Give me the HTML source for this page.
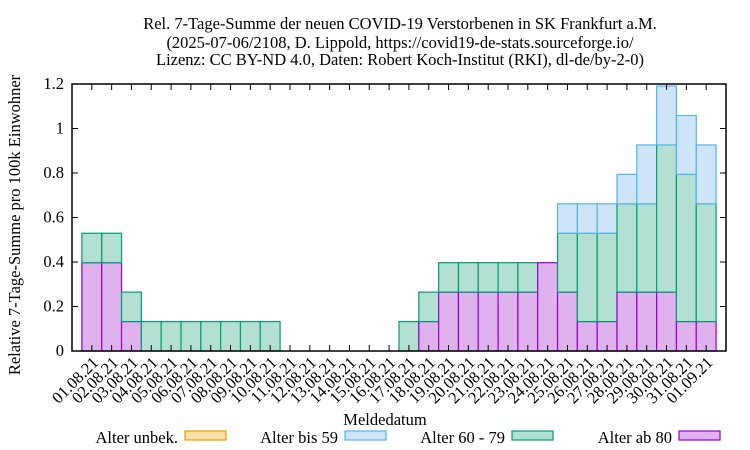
<!DOCTYPE html>
<html><head><meta charset="utf-8"><style>
body{margin:0;background:#fff}
svg{display:block;font-family:"Liberation Serif",serif;font-size:16.5px}
</style></head><body>
<svg id="c" width="750" height="450" viewBox="0 0 750 450">
<text x="400" y="29" text-anchor="middle">Rel. 7-Tage-Summe der neuen COVID-19 Verstorbenen in SK Frankfurt a.M.</text>
<text x="400" y="48" text-anchor="middle">(2025-07-06/2108, D. Lippold, https://covid19-de-stats.sourceforge.io/</text>
<text x="400" y="65" text-anchor="middle">Lizenz: CC BY-ND 4.0, Daten: Robert Koch-Institut (RKI), dl-de/by-2-0)</text>
<text transform="translate(20,225) rotate(-90)" text-anchor="middle">Relative 7-Tage-Summe pro 100k Einwohner</text>
<text x="385" y="425" text-anchor="middle">Meldedatum</text>
<g id="bars"></g><g id="axes"></g><g id="legend"></g>
</svg>
<script>
const categories=["01.08.21","02.08.21","03.08.21","04.08.21","05.08.21","06.08.21","07.08.21","08.08.21","09.08.21","10.08.21","11.08.21","12.08.21","13.08.21","14.08.21","15.08.21","16.08.21","17.08.21","18.08.21","19.08.21","20.08.21","21.08.21","22.08.21","23.08.21","24.08.21","25.08.21","26.08.21","27.08.21","28.08.21","29.08.21","30.08.21","31.08.21","01.09.21"];
const u=0.1323;
const ab80=[3,3,1,0,0,0,0,0,0,0,0,0,0,0,0,0,0,1,2,2,2,2,2,3,2,1,1,2,2,2,1,1].map(v=>v*u);
const a6079=[1,1,1,1,1,1,1,1,1,1,0,0,0,0,0,0,1,1,1,1,1,1,1,0,2,3,3,3,3,5,5,4].map(v=>v*u);
const bis59=[0,0,0,0,0,0,0,0,0,0,0,0,0,0,0,0,0,0,0,0,0,0,0,0,1,1,1,1,2,2,2,2].map(v=>v*u);
const unbek=new Array(32).fill(0);
const yTicks=[0,0.2,0.4,0.6,0.8,1,1.2];
const yTickLabels=["0","0.2","0.4","0.6","0.8","1","1.2"];
const L=72,R=726,T=84,B=351;
const X=i=>L+(i+1)*(R-L)/33;
const Y=v=>B-v/1.2*(B-T);
const NS="http://www.w3.org/2000/svg";
function mk(p,t,a){const e=document.createElementNS(NS,t);for(const k in a)e.setAttribute(k,a[k]);p.appendChild(e);return e;}
const bars=document.getElementById('bars'),axes=document.getElementById('axes'),leg=document.getElementById('legend');
const series=[{d:ab80,f:"#dfb2ee",s:"#9400d3",n:"ab80"},{d:a6079,f:"#b3e0d3",s:"#009e73",n:"60-79"},{d:bis59,f:"#cde5f7",s:"#56b4e9",n:"bis59"},{d:unbek,f:"#f9e0a8",s:"#e69f00",n:"unbek"}];
for(let i=0;i<categories.length;i++){
  let base=0;
  for(const s of series){
    const v=s.d[i];
    if(v>0){
      const r=mk(bars,'rect',{x:X(i-0.5),y:Y(base+v),width:X(i+0.5)-X(i-0.5),height:Y(base)-Y(base+v),fill:s.f,stroke:s.s,'stroke-width':1.2});
      
      
    }
    base+=v;
  }
}
mk(axes,'rect',{x:L,y:T,width:R-L,height:B-T,fill:'none',stroke:'#000','stroke-width':1.5});
yTicks.forEach((v,k)=>{
  mk(axes,'line',{x1:L,x2:L+6,y1:Y(v),y2:Y(v),stroke:'#000'});
  mk(axes,'line',{x1:R,x2:R-6,y1:Y(v),y2:Y(v),stroke:'#000'});
  const t=mk(axes,'text',{x:L-8,y:Y(v)+5,'text-anchor':'end'});t.textContent=yTickLabels[k];
  
  
});
categories.forEach((c,i)=>{
  mk(axes,'line',{x1:X(i),x2:X(i),y1:B,y2:B-6,stroke:'#000'});
  mk(axes,'line',{x1:X(i),x2:X(i),y1:T,y2:T+6,stroke:'#000'});
  const t=mk(axes,'text',{transform:`translate(${X(i)+4},${B+9}) rotate(-45)`,'text-anchor':'end',y:5});t.textContent=c;
  
  
});
const legItems=[["Alter unbek.",178,"#f9e0a8","#e69f00"],["Alter bis 59",338,"#cde5f7","#56b4e9"],["Alter 60 - 79",505,"#b3e0d3","#009e73"],["Alter ab 80",672,"#dfb2ee","#9400d3"]];
legItems.forEach(([n,x,f,s])=>{
  const g=mk(leg,'g',{});
  
  
  const t=mk(g,'text',{x:x,y:443,'text-anchor':'end'});t.textContent=n;
  mk(g,'rect',{x:x+7,y:431,width:41,height:9,fill:f,stroke:s,'stroke-width':1.2});
});
</script>
</body></html>
